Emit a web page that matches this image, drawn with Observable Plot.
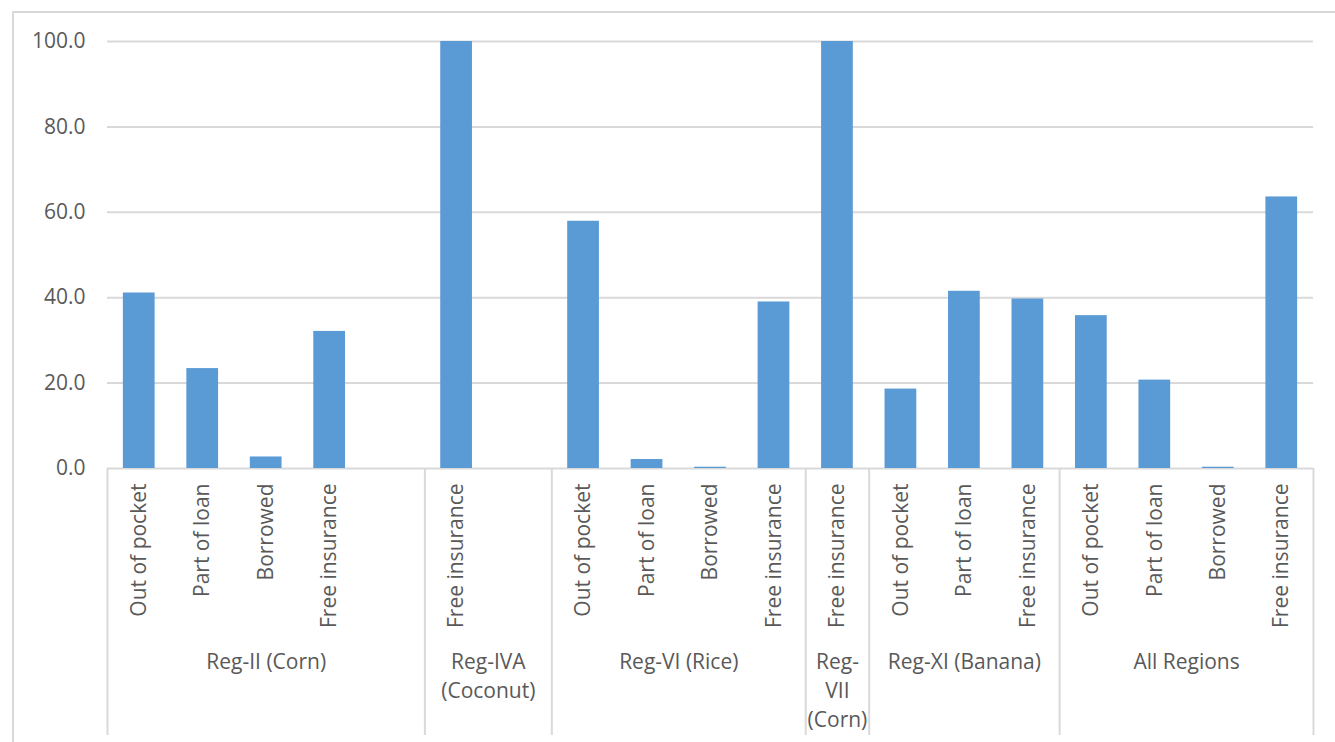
<!DOCTYPE html>
<html>
<head>
<meta charset="utf-8">
<script src="https://cdn.jsdelivr.net/npm/d3@7"></script>
<script src="https://cdn.jsdelivr.net/npm/@observablehq/plot@0.6"></script>
<style>
  html, body { margin: 0; padding: 0; background: #fff; }
  #wrap { position: relative; width: 1335px; height: 742px; overflow: hidden; }
  #border { position: absolute; left: 12px; top: 11px; width: 1340px; height: 760px;
            border-left: 2px solid #d9d9d9; border-top: 2px solid #d9d9d9; box-sizing: border-box; }
  #chart { position: absolute; left: 0; top: 0; }
</style>
</head>
<body>
<div id="wrap"><div id="border"></div><div id="chart"></div></div>
<script>
// ---- data ----
const groupNames = ["Reg-II (Corn)", "Reg-IVA\n(Coconut)", "Reg-VI (Rice)", "Reg-\nVII\n(Corn)", "Reg-XI (Banana)", "All Regions"];
const groupCategories = [
  ["Out of pocket", "Part of loan", "Borrowed", "Free insurance", ""],
  ["Free insurance", ""],
  ["Out of pocket", "Part of loan", "Borrowed", "Free insurance"],
  ["Free insurance"],
  ["Out of pocket", "Part of loan", "Free insurance"],
  ["Out of pocket", "Part of loan", "Borrowed", "Free insurance"]
];
const groupValues = [
  [41.1, 23.4, 2.7, 32.1, null],
  [100.0, null],
  [57.9, 2.1, 0.3, 39.0],
  [100.0],
  [18.6, 41.5, 39.7],
  [35.8, 20.7, 0.3, 63.6]
];
const yTicks = [0, 20, 40, 60, 80, 100];

// ---- build tables from the arrays ----
const slots = [];
const groups = [];
let idx = 0;
groupNames.forEach((g, gi) => {
  const start = idx;
  groupCategories[gi].forEach((c, ci) => {
    slots.push({group: g, category: c, value: groupValues[gi][ci], i: idx});
    idx++;
  });
  groups.push({name: g, start, end: idx});
});
const nSlots = idx;
const boundaries = [0, ...groups.map(g => g.end)];

const W = 1335, H = 742;
const mL = 107, mR = 22, mT = 41, mB = 274;
const plotH = H - mT - mB;
const grey = "#595959";
const lineCol = "#d9d9d9";

const chart = Plot.plot({
  width: W,
  height: H,
  marginLeft: mL,
  marginRight: mR,
  marginTop: mT,
  marginBottom: mB,
  style: {fontFamily: "'Open Sans', sans-serif", fontSize: "21px", color: grey, background: "transparent", overflow: "visible"},
  x: {type: "linear", domain: [0, nSlots], axis: null},
  y: {domain: [0, 100], axis: null},
  marks: [
    Plot.ruleY(yTicks, {stroke: lineCol, strokeWidth: 2}),
    Plot.axisY({ticks: yTicks, tickSize: 0, tickPadding: 22, tickFormat: d3.format(".1f"), fill: grey, label: null}),
    Plot.rectY(slots.filter(d => d.value != null), {
      x1: d => d.i + 0.25, x2: d => d.i + 0.75, y1: 0, y2: "value",
      fill: "#5b9bd5"
    }),
    Plot.ruleX(boundaries, {stroke: lineCol, strokeWidth: 2, insetTop: plotH, insetBottom: -267}),
    Plot.text(slots.filter(d => d.category), {
      x: d => d.i + 0.5, text: "category", frameAnchor: "bottom",
      rotate: -90, textAnchor: "end", lineAnchor: "middle", dy: 15, fill: grey
    }),
    Plot.text(groups, {
      x: d => (d.start + d.end) / 2, text: "name", frameAnchor: "bottom",
      lineAnchor: "top", dy: 180, lineHeight: 1.38, fill: grey
    })
  ]
});
document.getElementById("chart").appendChild(chart);
</script>
</body>
</html>
